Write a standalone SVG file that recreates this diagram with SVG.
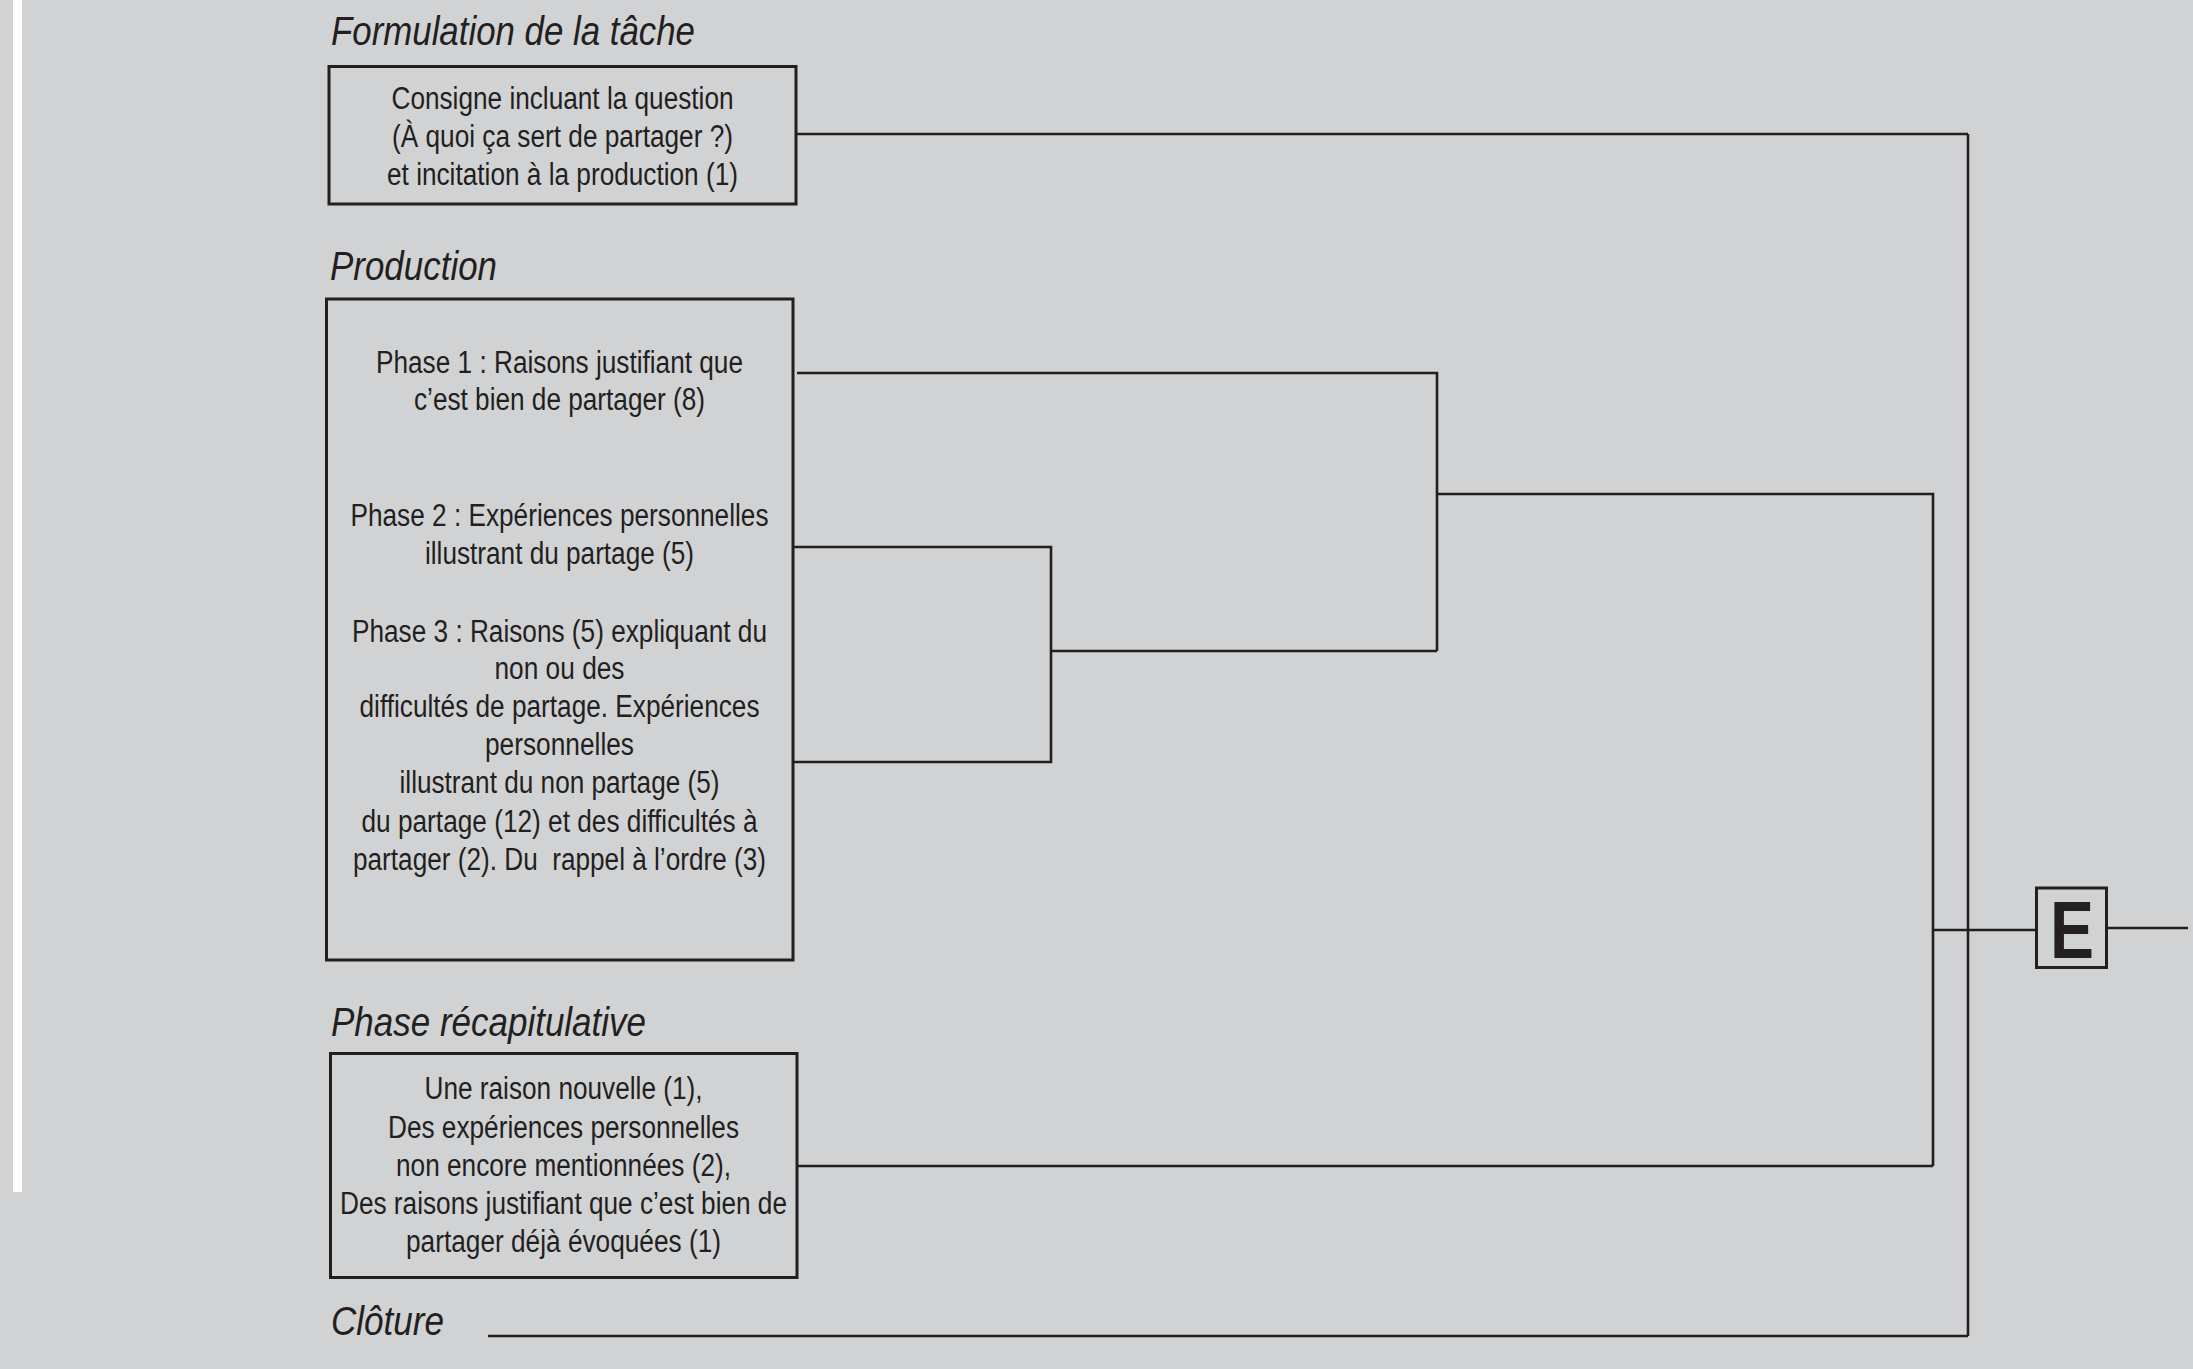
<svg xmlns="http://www.w3.org/2000/svg" width="2193" height="1369" viewBox="0 0 2193 1369">
<style>
.bg{fill:#d1d2d4}
.box{fill:none;stroke:#231f20;stroke-width:3}
.ln{fill:none;stroke:#231f20;stroke-width:2.6}
.ttl{font-family:"Liberation Sans",Arial,sans-serif;font-style:italic;font-size:41px;fill:#231f20}
.t{font-family:"Liberation Sans",Arial,sans-serif;font-size:31px;fill:#231f20;text-anchor:middle}
.e{font-family:"Liberation Sans",Arial,sans-serif;font-weight:bold;font-size:81px;fill:#231f20;text-anchor:middle}
</style>
<rect class="bg" x="0" y="0" width="2193" height="1369"/>
<rect x="13" y="0" width="9" height="1192" fill="#ffffff"/>

<g id="titles">
<text class="ttl" x="331" y="45" textLength="364" lengthAdjust="spacingAndGlyphs">Formulation de la tâche</text>
<text class="ttl" x="330" y="280" textLength="167" lengthAdjust="spacingAndGlyphs">Production</text>
<text class="ttl" x="331" y="1036" textLength="315" lengthAdjust="spacingAndGlyphs">Phase récapitulative</text>
<text class="ttl" x="331" y="1335" textLength="113" lengthAdjust="spacingAndGlyphs">Clôture</text>
</g>

<g id="node-formulation">
<rect class="box" x="329" y="66.5" width="467" height="137.5"/>
<text class="t" x="562.5" y="109" textLength="342" lengthAdjust="spacingAndGlyphs">Consigne incluant la question</text>
<text class="t" x="562.5" y="147" textLength="341" lengthAdjust="spacingAndGlyphs">(À quoi ça sert de partager ?)</text>
<text class="t" x="562.5" y="185" textLength="351" lengthAdjust="spacingAndGlyphs">et incitation à la production (1)</text>
</g>

<g id="node-production">
<rect class="box" x="326.5" y="299" width="466.5" height="661"/>
<text class="t" x="559.5" y="373" textLength="367" lengthAdjust="spacingAndGlyphs">Phase 1 : Raisons justifiant que</text>
<text class="t" x="559.5" y="410" textLength="291" lengthAdjust="spacingAndGlyphs">c’est bien de partager (8)</text>
<text class="t" x="559.5" y="526" textLength="418" lengthAdjust="spacingAndGlyphs">Phase 2 : Expériences personnelles</text>
<text class="t" x="559.5" y="564" textLength="269" lengthAdjust="spacingAndGlyphs">illustrant du partage (5)</text>
<text class="t" x="559.5" y="642" textLength="415" lengthAdjust="spacingAndGlyphs">Phase 3 : Raisons (5) expliquant du</text>
<text class="t" x="559.5" y="679" textLength="130" lengthAdjust="spacingAndGlyphs">non ou des</text>
<text class="t" x="559.5" y="717" textLength="400" lengthAdjust="spacingAndGlyphs">difficultés de partage. Expériences</text>
<text class="t" x="559.5" y="755" textLength="149" lengthAdjust="spacingAndGlyphs">personnelles</text>
<text class="t" x="559.5" y="793" textLength="320" lengthAdjust="spacingAndGlyphs">illustrant du non partage (5)</text>
<text class="t" x="559.5" y="832" textLength="396" lengthAdjust="spacingAndGlyphs">du partage (12) et des difficultés à</text>
<text class="t" x="559.5" y="870" textLength="413" lengthAdjust="spacingAndGlyphs" xml:space="preserve">partager (2). Du  rappel à l’ordre (3)</text>
</g>

<g id="node-recap">
<rect class="box" x="330.5" y="1053.5" width="466.5" height="224"/>
<text class="t" x="563.5" y="1099" textLength="278" lengthAdjust="spacingAndGlyphs">Une raison nouvelle (1),</text>
<text class="t" x="563.5" y="1137.5" textLength="351" lengthAdjust="spacingAndGlyphs">Des expériences personnelles</text>
<text class="t" x="563.5" y="1176" textLength="335" lengthAdjust="spacingAndGlyphs">non encore mentionnées (2),</text>
<text class="t" x="563.5" y="1214" textLength="447" lengthAdjust="spacingAndGlyphs">Des raisons justifiant que c’est bien de</text>
<text class="t" x="563.5" y="1252" textLength="315" lengthAdjust="spacingAndGlyphs">partager déjà évoquées (1)</text>
</g>

<g id="node-E">
<rect class="box" x="2036.5" y="888" width="70" height="79.5"/>
<text class="e" x="2072" y="958" textLength="44" lengthAdjust="spacingAndGlyphs">E</text>
</g>

<g id="connectors">
<polyline class="ln" points="797,134 1968,134"/>
<polyline class="ln" points="1968,134 1968,1336"/>
<polyline class="ln" points="488,1336 1968,1336"/>
<polyline class="ln" points="797,373 1437,373 1437,651"/>
<polyline class="ln" points="793,547 1051,547 1051,762 793,762"/>
<polyline class="ln" points="1051,651 1437,651"/>
<polyline class="ln" points="1437,494 1933,494 1933,1166"/>
<polyline class="ln" points="797,1166 1933,1166"/>
<polyline class="ln" points="1933,930 2036,930"/>
<polyline class="ln" points="2107,928 2188,928"/>
</g>
</svg>
